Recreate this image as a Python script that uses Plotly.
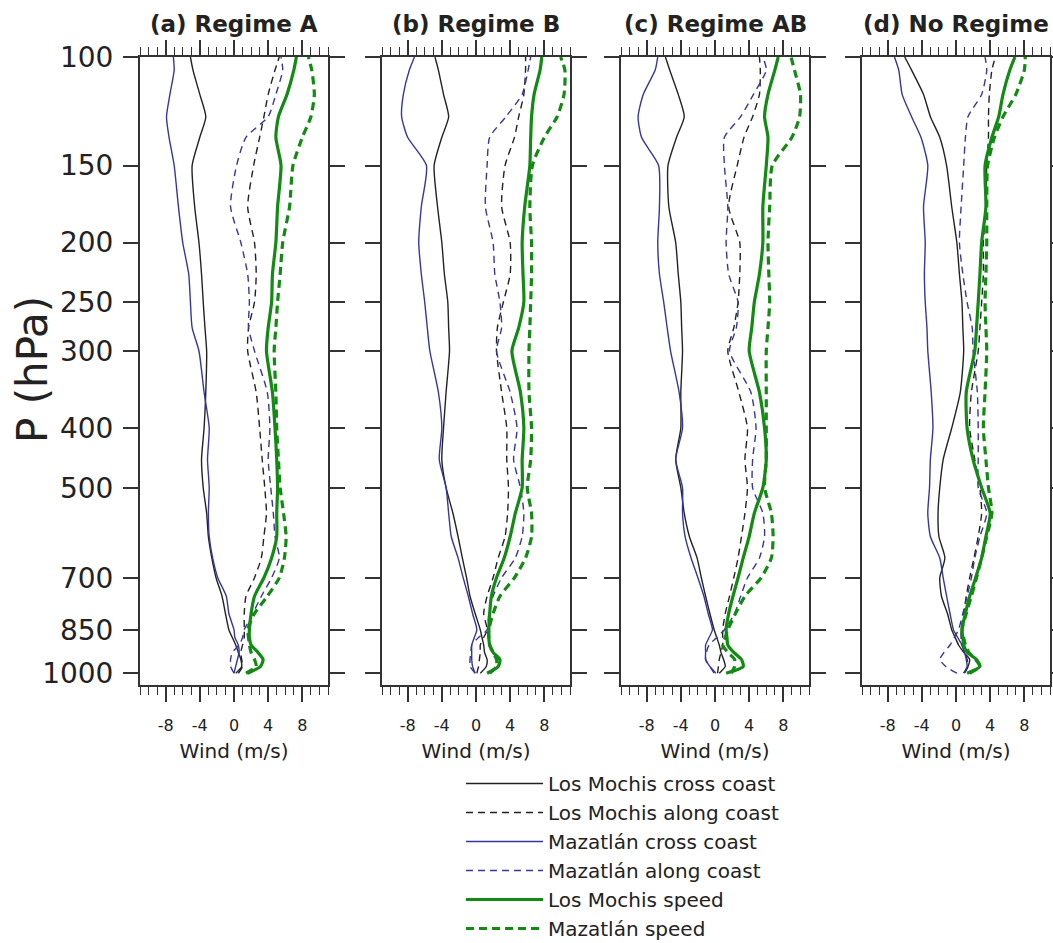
import math
import plotly.graph_objects as go

# Pressure levels (hPa), surface to upper troposphere
pressure = [1000, 975, 950, 925, 900, 875, 850, 800, 750, 700, 650, 600, 550,
            500, 450, 400, 350, 300, 275, 250, 225, 200, 175, 150, 135, 125,
            115, 105, 100]

# (a) Regime A
a_lm_cross = [0.2, 0.9, 0.8, 0.5, 0.2, -0.2, -0.6, -1.0, -1.4, -2.1, -2.6, -3.0, -3.2,
              -3.6, -3.8, -3.5, -3.3, -3.2, -3.4, -3.6, -3.8, -4.1, -4.6, -4.9, -4.0, -3.3,
              -4.0, -4.8, -5.1]
a_lm_along = [0.5, 1.0, 0.9, 0.8, 1.0, 1.2, 1.2, 1.2, 1.4, 2.4, 3.2, 3.5, 3.8,
              3.6, 3.3, 3.0, 2.6, 1.6, 1.7, 2.4, 2.6, 2.4, 1.6, 2.3, 3.0, 3.5,
              4.0, 4.8, 5.3]
a_maz_cross = [0.0, 0.2, 0.4, 0.6, 0.5, 0.1, 0.0, -0.6, -0.9, -1.9, -2.5, -2.9, -3.0,
               -2.9, -3.1, -2.9, -3.5, -4.1, -4.9, -5.1, -5.3, -6.0, -6.5, -7.0, -7.6, -7.9,
               -7.5, -7.0, -7.1]
a_maz_along = [0.0, -0.4, -0.4, -0.2, 0.6, 1.0, 1.2, 2.2, 3.2, 4.4, 5.3, 4.8, 4.6,
               4.3, 4.0, 4.2, 3.9, 2.4, 1.7, 1.8, 1.6, 0.8, -0.4, 0.3, 1.4, 4.0,
               4.9, 5.7, 5.5]
a_lm_speed = [1.6, 3.1, 3.4, 2.8, 2.0, 1.8, 1.8, 2.0, 2.4, 3.5, 4.4, 5.0, 5.0,
              5.1, 5.0, 4.8, 4.5, 3.8, 4.0, 4.4, 4.5, 4.9, 5.1, 5.5, 4.9, 5.2,
              6.2, 7.0, 7.3]
a_maz_speed = [1.4, 2.6, 2.4, 2.0, 1.8, 1.7, 1.6, 2.4, 3.9, 5.3, 5.9, 6.1, 5.8,
               5.4, 5.2, 5.0, 4.9, 4.7, 4.9, 5.1, 5.4, 5.7, 6.5, 6.9, 8.0, 9.0,
               9.4, 9.1, 8.7]

# (b) Regime B
b_lm_cross = [0.5, 1.2, 1.3, 1.0, 0.9, 0.7, 0.5, -0.1, -0.7, -1.1, -1.6, -2.1, -2.7,
              -3.5, -4.0, -3.8, -3.5, -3.1, -3.2, -3.3, -3.7, -4.0, -4.5, -4.9, -4.0, -3.2,
              -3.8, -4.4, -4.8]
b_lm_along = [0.1, 0.3, 0.4, 0.5, 0.5, 0.9, 1.3, 0.9, 1.3, 2.0, 2.6, 3.4, 3.7,
              3.8, 3.6, 3.6, 3.0, 2.4, 2.5, 3.2, 4.0, 4.0, 3.0, 3.4, 4.5, 5.0,
              5.6, 5.8, 5.8]
b_maz_cross = [-0.1, -0.4, -0.5, -0.5, -0.5, -0.2, 0.1, -0.4, -0.9, -1.5, -2.1, -2.9, -3.2,
               -3.5, -4.3, -4.0, -4.4, -5.4, -5.7, -6.0, -6.4, -6.7, -6.4, -5.8, -8.0, -8.7,
               -8.5, -7.8, -7.2]
b_maz_along = [-0.1, -0.7, -0.7, -0.6, -0.5, 0.3, 1.3, 1.5, 2.0, 3.0, 4.6, 5.4, 5.6,
               5.2, 4.4, 4.8, 4.0, 2.4, 3.0, 2.8, 2.2, 2.0, 1.1, 1.3, 1.6, 3.5,
               5.4, 6.1, 6.4]
b_lm_speed = [1.3, 2.6, 2.8, 2.0, 1.6, 1.5, 1.5, 1.6, 1.8, 2.4, 3.3, 4.0, 4.6,
              5.4, 5.4, 5.6, 5.2, 4.2, 5.0, 5.6, 5.5, 5.4, 5.7, 6.3, 6.4, 6.5,
              6.8, 7.5, 7.7]
b_maz_speed = [1.6, 2.4, 2.4, 2.0, 1.6, 1.5, 1.5, 2.0, 2.8, 4.5, 5.8, 6.5, 6.5,
               6.0, 6.4, 6.5, 6.2, 6.2, 6.3, 6.4, 6.5, 6.5, 6.3, 6.6, 8.0, 9.5,
               10.3, 10.4, 9.9]

# (c) Regime AB
c_lm_cross = [0.5, 1.2, 1.0, 0.7, 0.5, 0.2, -0.1, -0.6, -1.1, -1.6, -2.1, -3.0, -3.6,
              -4.0, -4.6, -4.0, -4.0, -3.8, -3.9, -4.0, -4.3, -4.6, -5.4, -5.5, -4.5, -3.6,
              -4.3, -5.3, -5.8]
c_lm_along = [0.3, 0.4, 0.5, 0.7, 0.9, 0.9, 0.9, 1.2, 1.7, 2.2, 2.7, 3.1, 3.5,
              3.8, 3.5, 3.8, 2.8, 1.5, 2.2, 2.7, 2.9, 2.9, 1.6, 2.6, 3.4, 4.4,
              5.2, 5.3, 5.2]
c_maz_cross = [0.1, -0.6, -1.1, -1.1, -1.1, -0.7, -0.3, -0.8, -1.3, -2.0, -2.8, -3.5, -3.8,
               -3.8, -4.6, -3.8, -4.2, -5.2, -5.6, -6.0, -6.5, -6.7, -6.5, -6.6, -8.6, -9.0,
               -8.4, -7.0, -6.7]
c_maz_along = [-0.1, -0.6, -1.1, -1.0, -0.7, 0.2, 1.1, 2.3, 3.0, 3.8, 5.2, 5.8, 5.6,
               4.4, 4.4, 4.8, 4.2, 1.7, 2.5, 2.7, 1.6, 1.3, 1.5, 1.1, 1.1, 3.0,
               4.5, 6.0, 5.6]
c_lm_speed = [1.3, 3.3, 3.1, 2.2, 1.5, 1.4, 1.3, 1.6, 2.1, 2.7, 3.3, 4.0, 4.6,
              5.6, 6.0, 5.8, 5.2, 4.0, 4.3, 4.6, 5.2, 5.6, 5.6, 6.0, 6.2, 5.8,
              6.2, 7.0, 7.4]
c_maz_speed = [1.9, 2.3, 2.3, 1.5, 0.9, 1.2, 1.5, 2.4, 3.5, 5.4, 6.6, 6.8, 6.6,
               5.8, 6.0, 6.0, 6.0, 6.0, 6.2, 6.4, 6.3, 6.2, 6.4, 6.7, 9.0, 9.9,
               10.0, 9.3, 8.9]

# (d) No Regime
d_lm_cross = [0.9, 1.4, 1.6, 0.9, 0.3, -0.1, -0.5, -1.0, -1.7, -1.9, -1.3, -2.0, -2.1,
              -1.9, -1.5, -0.5, 0.5, 0.9, 0.8, 0.7, 0.4, 0.1, -0.5, -1.1, -1.9, -3.0,
              -3.8, -5.2, -6.0]
d_lm_along = [1.0, 1.4, 1.3, 1.0, 0.7, 0.6, 0.6, 0.9, 1.2, 1.6, 2.1, 2.6, 3.0,
              2.8, 2.2, 1.6, 1.8, 2.6, 2.8, 3.0, 3.2, 3.2, 3.5, 3.6, 3.8, 3.8,
              3.9, 4.2, 4.6]
d_maz_cross = [0.9, 1.3, 1.2, 1.0, 0.7, 0.2, -0.3, -0.7, -1.1, -1.5, -1.9, -3.0, -3.3,
               -3.1, -3.0, -2.7, -2.9, -3.3, -3.4, -3.6, -3.7, -3.6, -3.8, -3.3, -4.1, -5.2,
               -6.3, -6.7, -7.2]
d_maz_along = [0.1, -1.2, -1.9, -1.4, -0.7, -0.2, 0.3, 0.8, 1.3, 1.8, 2.2, 2.8, 3.6,
               2.6, 2.6, 2.6, 2.5, 2.0, 1.9, 1.3, 0.8, 0.4, 0.6, 0.9, 1.1, 1.4,
               3.0, 3.6, 3.4]
d_lm_speed = [1.3, 2.8, 2.4, 1.3, 0.9, 0.8, 0.7, 1.1, 1.6, 2.3, 3.0, 3.5, 4.0,
              3.0, 2.0, 1.3, 1.2, 2.2, 2.4, 2.6, 2.8, 3.0, 3.5, 3.4, 4.2, 5.0,
              5.5, 6.3, 6.9]
d_maz_speed = [1.6, 2.8, 2.3, 1.5, 1.1, 0.9, 0.7, 1.2, 1.8, 2.4, 3.0, 3.6, 4.2,
               3.8, 3.5, 3.2, 3.4, 3.6, 3.5, 3.4, 3.5, 3.6, 3.6, 3.7, 4.5, 5.5,
               7.0, 8.0, 8.1]

panel_titles = ["(a) Regime A", "(b) Regime B", "(c) Regime AB", "(d) No Regime"]
series_names = ["Los Mochis cross coast", "Los Mochis along coast",
                "Mazatlán cross coast", "Mazatlán along coast",
                "Los Mochis speed", "Mazatlán speed"]
panels = [
    [a_lm_cross, a_lm_along, a_maz_cross, a_maz_along, a_lm_speed, a_maz_speed],
    [b_lm_cross, b_lm_along, b_maz_cross, b_maz_along, b_lm_speed, b_maz_speed],
    [c_lm_cross, c_lm_along, c_maz_cross, c_maz_along, c_lm_speed, c_maz_speed],
    [d_lm_cross, d_lm_along, d_maz_cross, d_maz_along, d_lm_speed, d_maz_speed],
]
xtick_vals = [-8, -4, 0, 4, 8]
xtick_text = ["-8", "-4", "0", "4", "8"]
ptick_vals = [100, 150, 200, 250, 300, 400, 500, 700, 850, 1000]

# Line styles for the six series
BLACK, BLUE, GREEN = "#222222", "#36369c", "#138a13"
styles = [
    dict(color=BLACK, width=1.4, dash="solid"),
    dict(color=BLACK, width=1.4, dash="7px,5px"),
    dict(color=BLUE, width=1.4, dash="solid"),
    dict(color=BLUE, width=1.4, dash="7px,5px"),
    dict(color=GREEN, width=3.2, dash="solid"),
    dict(color=GREEN, width=3.2, dash="8px,5px"),
]

W, H = 1053, 943
FONT = "DejaVu Sans"
AX = "#333333"
TXT = "#222222"
panel_left = [140, 382, 621, 862]
panel_w = 188
top_px, bottom_px = 57, 685

fig = go.Figure()
for i, series in enumerate(panels):
    xa = "x" if i == 0 else f"x{i + 1}"
    ya = "y" if i == 0 else f"y{i + 1}"
    for j, vals in enumerate(series):
        fig.add_trace(go.Scatter(
            x=vals, y=pressure, mode="lines", name=series_names[j],
            line=dict(shape="spline", smoothing=0.6, **styles[j]),
            xaxis=xa, yaxis=ya, showlegend=(i == 0),
        ))

layout = dict(
    width=W, height=H,
    margin=dict(l=0, r=0, t=0, b=0, autoexpand=False),
    paper_bgcolor="white", plot_bgcolor="white",
    font=dict(family=FONT, color=TXT),
    legend=dict(x=461 / W, y=1 - 764 / H, xanchor="left", yanchor="top",
                font=dict(size=20, family=FONT, color=TXT),
                itemwidth=77, bgcolor="rgba(0,0,0,0)"),
)
annotations = []
for i in range(4):
    k = "" if i == 0 else str(i + 1)
    x0 = panel_left[i] / W
    x1 = (panel_left[i] + panel_w) / W
    layout[f"xaxis{k}"] = dict(
        domain=[x0, x1], range=[-11, 11], anchor=f"y{k}",
        tickvals=xtick_vals, ticktext=xtick_text,
        ticks="outside", ticklen=15, tickwidth=1.6, tickcolor=AX,
        minor=dict(dtick=1, tick0=0, ticks="outside", ticklen=8,
                   tickwidth=1.2, tickcolor=AX),
        showline=True, linewidth=2, linecolor=AX, mirror="ticks",
        showgrid=False, zeroline=False,
        tickfont=dict(size=16, family=FONT, color=TXT),
        ticklabelstandoff=10,
        title=dict(text="Wind (m/s)", font=dict(size=20, family=FONT, color=TXT),
                   standoff=10),
    )
    layout[f"yaxis{k}"] = dict(
        domain=[1 - bottom_px / H, 1 - top_px / H], anchor=f"x{k}",
        type="log", range=[math.log10(1045), 2],
        tickvals=ptick_vals, ticktext=[str(v) for v in ptick_vals],
        showticklabels=(i == 0),
        ticks="outside", ticklen=15, tickwidth=1.6, tickcolor=AX,
        showline=True, linewidth=2, linecolor=AX, mirror="ticks",
        showgrid=False, zeroline=False,
        tickfont=dict(size=28, family=FONT, color=TXT),
        ticklabelstandoff=4,
    )
    annotations.append(dict(
        text=f"<b>{panel_titles[i]}</b>", xref="paper", yref="paper",
        x=(x0 + x1) / 2, y=1 - 24 / H, xanchor="center", yanchor="middle",
        showarrow=False, font=dict(size=23, family=FONT, color=TXT),
    ))
annotations.append(dict(
    text="P (hPa)", xref="paper", yref="paper", x=32 / W, y=1 - 370 / H,
    xanchor="center", yanchor="middle", textangle=-90, showarrow=False,
    font=dict(size=42, family=FONT, color=TXT),
))
layout["annotations"] = annotations
fig.update_layout(**layout)
fig.write_html("out.html")
